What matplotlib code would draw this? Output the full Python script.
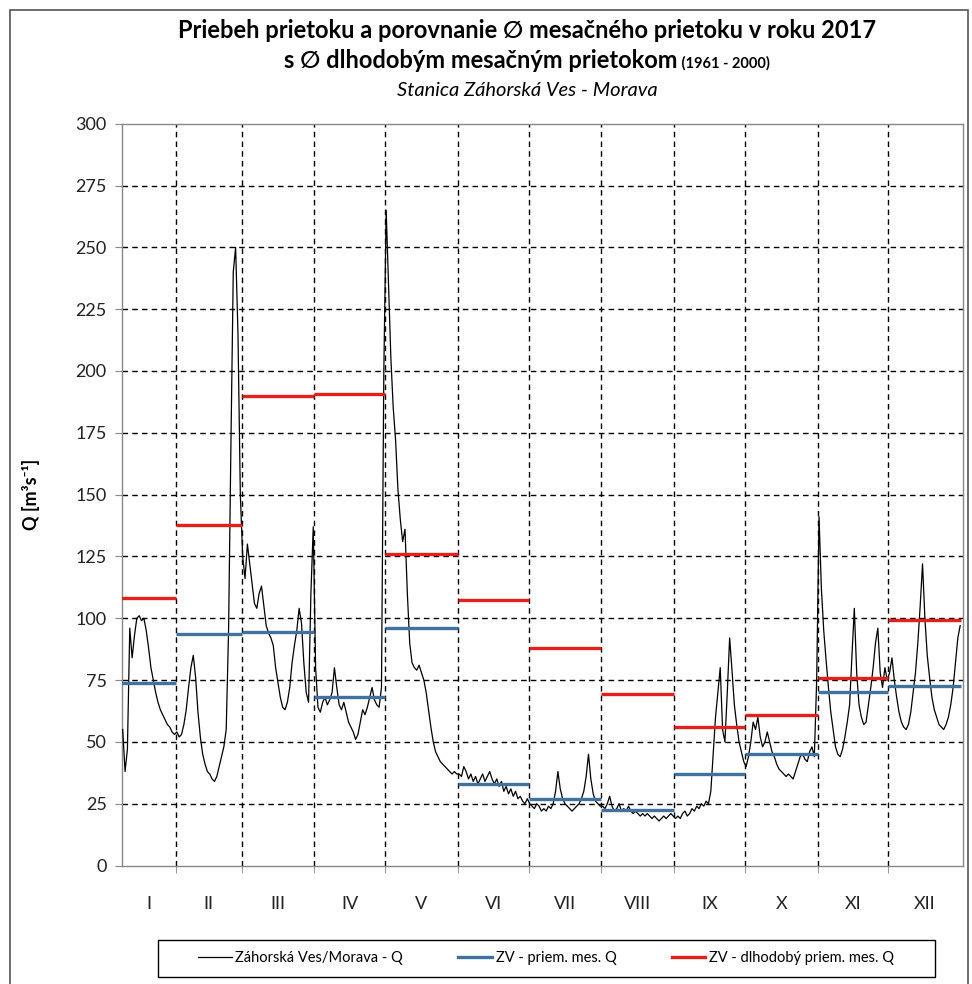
import numpy as np
import matplotlib
matplotlib.use("Agg")
import matplotlib.pyplot as plt
from matplotlib.patches import Rectangle

FONT = ['Lato', 'DejaVu Sans']
plt.rcParams['font.family'] = FONT

# ---------------- data ----------------
months = ['I', 'II', 'III', 'IV', 'V', 'VI', 'VII', 'VIII', 'IX', 'X', 'XI', 'XII']
month_days = [31, 28, 31, 30, 31, 30, 31, 31, 30, 31, 30, 31]
first_day = 8  # first plotted day index (0 = 1 Jan)

q_jan = [55, 38, 47, 96, 84, 93, 100, 101, 99, 100, 95, 88, 80, 75, 70, 66, 63, 61, 59, 57, 56, 54, 53]
q_feb = [54, 52, 53, 57, 63, 72, 80, 85, 76, 62, 52, 45, 41, 38, 37, 35, 34, 36, 40, 44,
         48, 55, 95, 170, 240, 250, 215, 150]
q_mar = [125, 116, 130, 122, 114, 106, 104, 110, 113, 105, 97, 94, 92, 89, 80, 74, 68, 64, 63, 66,
         72, 82, 89, 95, 104, 98, 82, 70, 66, 110, 137]
q_apr = [80, 64, 62, 66, 68, 65, 67, 70, 80, 72, 65, 63, 66, 62, 58, 56, 54, 51, 53, 58,
         63, 61, 64, 68, 72, 67, 65, 64, 72, 200]
q_may = [265, 235, 205, 185, 172, 152, 140, 131, 136, 110, 90, 82, 80, 79, 81, 78, 75, 70, 63, 56,
         50, 46, 44, 42, 41, 40, 39, 38, 37, 38, 37]
q_jun = [37, 36, 40, 38, 35, 37, 34, 36, 33, 35, 37, 34, 36, 38, 35, 33, 35, 32, 34, 30,
         32, 29, 31, 28, 30, 27, 28, 26, 25, 27]
q_jul = [25, 24, 23, 25, 24, 22, 23, 22, 24, 23, 25, 30, 38, 31, 27, 25, 24, 23, 22, 23,
         24, 25, 27, 30, 36, 45, 35, 29, 26, 25, 24]
q_aug = [24, 23, 25, 28, 24, 22, 23, 25, 22, 23, 22, 24, 22, 21, 22, 21, 20, 21, 20, 21,
         20, 19, 20, 19, 18, 19, 20, 19, 20, 21, 20]
q_sep = [19, 20, 19, 21, 22, 20, 21, 23, 22, 24, 23, 25, 24, 26, 25, 30, 45, 60, 70, 80,
         55, 50, 70, 92, 79, 65, 57, 50, 46, 42]
q_oct = [40, 44, 50, 58, 55, 60, 52, 48, 50, 54, 50, 46, 44, 41, 39, 38, 37, 36, 37, 36,
         35, 38, 41, 44, 45, 43, 42, 46, 48, 44, 75]
q_nov = [141, 112, 95, 83, 72, 62, 55, 48, 45, 44, 47, 52, 58, 65, 85, 104, 78, 65, 60, 57,
         58, 65, 72, 80, 90, 96, 78, 72, 80, 75]
q_dec = [78, 84, 75, 68, 62, 58, 56, 55, 57, 62, 70, 78, 90, 105, 122, 100, 85, 76, 68, 63,
         60, 57, 56, 55, 57, 60, 65, 72, 82, 92, 97]

q_mean_2017 = [74, 93.6, 94.4, 68, 96, 33, 27, 22.5, 37, 45, 70, 72.5]
q_mean_longterm = [108, 137.6, 190, 190.6, 125.8, 107.4, 87.8, 69.5, 56, 61, 75.7, 99.3]

labels = ['Záhorská Ves/Morava - Q', 'ZV - priem. mes. Q', 'ZV - dlhodobý priem. mes. Q']

# ---------------- derived ----------------
q_daily = np.array(q_jan + q_feb + q_mar + q_apr + q_may + q_jun +
                   q_jul + q_aug + q_sep + q_oct + q_nov + q_dec, dtype=float)
x_days = np.arange(first_day, first_day + len(q_daily)) + 0.5
bounds = np.concatenate([[0], np.cumsum(month_days)])
XMIN, XMAX = 8.2, 365.7
centers_x = []
for i in range(12):
    lo = max(bounds[i], XMIN)
    centers_x.append((lo + bounds[i + 1]) / 2)

W, H = 972, 984
fig = plt.figure(figsize=(W / 100, H / 100), dpi=100)
fig.patch.set_facecolor('white')

L, R, T, B = 122, 963, 123.7, 865.5
ax = fig.add_axes([L / W, 1 - B / H, (R - L) / W, (B - T) / H])

BLACK = '#000000'
BLUE = '#41729e'
RED = '#e3201b'

l1, = ax.plot(x_days, q_daily, color=BLACK, lw=0.9, zorder=3)
for i in range(12):
    ax.hlines(q_mean_2017[i], bounds[i], bounds[i + 1], color=BLUE, lw=2.4, zorder=4)
    ax.hlines(q_mean_longterm[i], bounds[i], bounds[i + 1], color=RED, lw=2.4, zorder=5)

ax.set_xlim(XMIN, XMAX)
ax.set_ylim(0, 300)
ax.set_yticks(np.arange(0, 301, 25))
ax.set_xticks(centers_x)
ax.set_xticklabels(months)
ax.set_xticks(bounds[1:-1], minor=True)
ax.tick_params(axis='x', which='major', length=0, pad=22, labelsize=13, colors='#222222')
ax.tick_params(axis='x', which='minor', length=5, color='#888888')
ax.tick_params(axis='y', length=5, color='#888888', labelsize=13, pad=6, labelcolor='#222222')

ax.grid(False)
for yv in np.arange(25, 300, 25):
    ax.axhline(yv, color='black', lw=1.0, ls=(0, (4, 3)), zorder=1)
for xv in bounds[1:-1]:
    ax.axvline(xv, color='black', lw=1.0, ls=(0, (4, 3)), zorder=1)
for s in ax.spines.values():
    s.set_color('#888888')
    s.set_linewidth(1.0)

ax.set_ylabel('Q [m³s⁻¹]', fontsize=13, fontweight='bold')
ax.yaxis.set_label_coords(-0.098, 0.5)

# ---------------- titles ----------------
cx = 527 / W
fig.text(cx, 1 - 31 / H, 'Priebeh prietoku a porovnanie ∅ mesačného prietoku v roku 2017',
         ha='center', va='center', fontsize=17, fontweight='bold')
renderer = fig.canvas.get_renderer()
t2a = fig.text(0, 1 - 61 / H, 's ∅ dlhodobým mesačným prietokom', ha='left', va='center',
               fontsize=17, fontweight='bold')
t2b = fig.text(0, 1 - 63 / H, ' (1961 - 2000)', ha='left', va='center',
               fontsize=10.5, fontweight='bold')
wa = t2a.get_window_extent(renderer).width
wb = t2b.get_window_extent(renderer).width
x0 = cx * W - (wa + wb) / 2
t2a.set_x(x0 / W)
t2b.set_x((x0 + wa) / W)
fig.text(cx, 1 - 91 / H, 'Stanica Záhorská Ves - Morava', ha='center', va='center',
         fontsize=14.5, fontstyle='italic')

# ---------------- legend ----------------
h_blue = plt.Line2D([], [], color=BLUE, lw=2.4)
h_red = plt.Line2D([], [], color=RED, lw=2.4)
leg = fig.legend([l1, h_blue, h_red], labels, loc='center',
                 bbox_to_anchor=(546 / W, 1 - 958 / H),
                 ncol=3, frameon=False, fontsize=10.5, handlelength=2.3,
                 borderaxespad=0, handletextpad=0.25, columnspacing=3.8)
fig.patches.append(Rectangle((158 / W, 1 - 977 / H), 777 / W, 37 / H, transform=fig.transFigure,
                             fill=False, edgecolor='black', lw=1.0))

# outer border
fig.patches.append(Rectangle((10 / W, -0.01), 958 / W, 1 - 10 / H + 0.01, transform=fig.transFigure,
                             fill=False, edgecolor='#555555', lw=1.2))

fig.savefig('out.png', dpi=100)
